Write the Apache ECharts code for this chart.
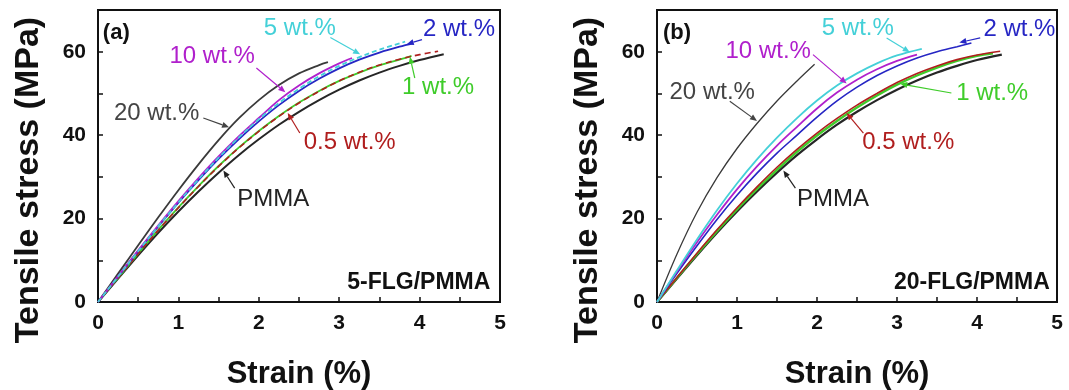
<!DOCTYPE html>
<html>
<head>
<meta charset="utf-8">
<script src="https://cdn.jsdelivr.net/npm/echarts@6/dist/echarts.min.js"></script>
<style>
  html, body { margin: 0; padding: 0; background: #fff; }
  #chart { width: 1069px; height: 390px; }
</style>
</head>
<body>
<div id="chart"></div>
<script>
// ---- tick labels ----
const strainTickLabels = [0, 1, 2, 3, 4, 5];
const stressTickLabels = [0, 20, 40, 60];

// ---- (a) 5-FLG/PMMA : [strain %, stress MPa] ----
const a_pmma = [[0,0],[0.25,5.6],[0.5,11.2],[0.75,16.6],[1,21.7],[1.25,26.5],[1.5,31.0],[1.75,35.2],[2,39.0],[2.25,42.5],[2.5,45.6],[2.75,48.4],[3,50.9],[3.25,53.1],[3.5,55.0],[3.75,56.6],[4,58.0],[4.3,59.4]];
const a_05  = [[0,0],[0.25,5.8],[0.5,11.6],[0.75,17.2],[1,22.6],[1.25,27.7],[1.5,32.5],[1.75,36.9],[2,40.9],[2.25,44.5],[2.5,47.7],[2.75,50.5],[3,53.0],[3.25,55.1],[3.5,56.8],[3.75,58.2],[4,59.3],[4.23,60.1]];
const a_1   = [[0,0],[0.25,5.8],[0.5,11.6],[0.75,17.3],[1,22.7],[1.25,27.8],[1.5,32.6],[1.75,37.0],[2,41.0],[2.25,44.6],[2.5,47.8],[2.75,50.6],[3,53.0],[3.25,55.0],[3.5,56.7],[3.75,58.1],[3.9,59.0]];
const a_2   = [[0,0],[0.25,6.1],[0.5,12.2],[0.75,18.1],[1,23.8],[1.25,29.2],[1.5,34.3],[1.75,39.0],[2,43.3],[2.25,47.2],[2.5,50.6],[2.75,53.5],[3,56.0],[3.25,58.1],[3.5,59.8],[3.75,61.2],[3.92,62.0]];
const a_5   = [[0,0],[0.25,6.1],[0.5,12.2],[0.75,18.2],[1,23.9],[1.25,29.4],[1.5,34.6],[1.75,39.4],[2,43.8],[2.25,47.7],[2.5,51.1],[2.75,54.1],[3,56.6],[3.25,58.7],[3.5,60.5],[3.82,62.4]];
const a_10  = [[0,0],[0.25,6.2],[0.5,12.4],[0.75,18.4],[1,24.2],[1.25,29.7],[1.5,34.9],[1.75,39.7],[2,44.1],[2.25,48.4],[2.5,51.9],[2.75,54.8],[3,57.2],[3.16,58.5]];
const a_20  = [[0,0],[0.25,6.8],[0.5,13.6],[0.75,20.3],[1,26.8],[1.25,33.0],[1.5,38.8],[1.75,44.0],[2,48.4],[2.25,52.0],[2.5,54.8],[2.75,56.8],[2.86,57.5]];

// ---- (b) 20-FLG/PMMA : [strain %, stress MPa] ----
const b_pmma = [[0,0],[0.25,5.6],[0.5,11.2],[0.75,16.6],[1,21.7],[1.25,26.5],[1.5,31.0],[1.75,35.2],[2,39.0],[2.25,42.5],[2.5,45.6],[2.75,48.4],[3,50.9],[3.25,53.1],[3.5,55.0],[3.75,56.6],[4,58.0],[4.31,59.3]];
const b_05  = [[0,0],[0.25,5.9],[0.5,11.7],[0.75,17.3],[1,22.6],[1.25,27.6],[1.5,32.3],[1.75,36.6],[2,40.5],[2.25,44.0],[2.5,47.2],[2.75,50.0],[3,52.6],[3.25,54.8],[3.5,56.6],[3.75,58.1],[4,59.2],[4.29,60.1]];
const b_1   = [[0,0],[0.25,5.8],[0.5,11.5],[0.75,17.0],[1,22.2],[1.25,27.1],[1.5,31.7],[1.75,36.0],[2,39.9],[2.25,43.4],[2.5,46.6],[2.75,49.5],[3,52.1],[3.25,54.3],[3.5,56.2],[3.75,57.8],[4,59.0],[4.2,59.6]];
const b_2   = [[0,0],[0.25,6.9],[0.5,13.5],[0.75,19.8],[1,25.6],[1.25,30.9],[1.5,35.7],[1.75,40.0],[2,44.3],[2.25,48.2],[2.5,51.5],[2.75,54.3],[3,56.6],[3.25,58.5],[3.5,60.0],[3.75,61.2],[3.93,62.1]];
const b_5   = [[0,0],[0.25,7.6],[0.5,15.0],[0.75,22.0],[1,28.4],[1.25,34.2],[1.5,39.4],[1.75,44.1],[2,48.3],[2.25,51.9],[2.5,54.8],[2.75,57.2],[3,59.1],[3.31,60.7]];
const b_10  = [[0,0],[0.25,7.3],[0.5,14.3],[0.75,20.9],[1,27.0],[1.25,32.5],[1.5,37.5],[1.75,42.0],[2,46.4],[2.25,50.2],[2.5,53.3],[2.75,55.8],[3,57.8],[3.25,59.3]];
const b_20  = [[0,0],[0.25,11.5],[0.5,21.5],[0.75,29.8],[1,36.8],[1.25,42.8],[1.5,48.2],[1.75,53.0],[1.97,57.0]];

const FONT = '"Liberation Sans", Arial, Helvetica, sans-serif';
const C = {
  pmma: '#262626', c20: '#3a3a3a', c10: '#b020cc', c5: '#44d0d8',
  c2: '#2626c4', c1: '#3fcc2a', c05: '#b01e1e'
};

function lineSeries(grid, data, color, width, type, z) {
  return {
    type: 'line', xAxisIndex: grid, yAxisIndex: grid, data: data,
    showSymbol: false, smooth: 0.35, z: z || 2,
    lineStyle: { color: color, width: width, type: type || 'solid' },
    emphasis: { disabled: true }, animation: false
  };
}

const grids = [
  { left: 98, top: 10, width: 402, height: 292 },
  { left: 657, top: 10, width: 400, height: 292 }
];

function xAxis(i) {
  return {
    type: 'value', gridIndex: i, min: 0, max: 5, interval: 0.5,
    name: 'Strain (%)', nameLocation: 'middle', nameGap: 57,
    nameTextStyle: { fontFamily: FONT, fontWeight: 'bold', fontSize: 31, color: '#111' },
    axisLine: { lineStyle: { color: '#111', width: 2 } },
    axisTick: { inside: true, length: 5, lineStyle: { color: '#111', width: 1.5 } },
    splitLine: { show: false },
    axisLabel: {
      margin: 11, fontFamily: FONT, fontWeight: 'bold', fontSize: 21, color: '#111',
      formatter: v => strainTickLabels.includes(v) ? String(v) : ''
    }
  };
}
function yAxis(i) {
  return {
    type: 'value', gridIndex: i, min: 0, max: 70, interval: 10,
    axisLine: { lineStyle: { color: '#111', width: 2 } },
    axisTick: { inside: true, length: 5, lineStyle: { color: '#111', width: 1.5 } },
    splitLine: { show: false },
    axisLabel: {
      margin: 12, fontFamily: FONT, fontWeight: 'bold', fontSize: 21, color: '#111',
      formatter: v => stressTickLabels.includes(v) ? String(v) : ''
    }
  };
}

const option = {
  backgroundColor: '#fff',
  animation: false,
  grid: grids.map(g => Object.assign({
    show: true, borderColor: '#111', borderWidth: 2, backgroundColor: 'transparent',
    containLabel: false, outerBoundsMode: 'none'
  }, g)),
  xAxis: [xAxis(0), xAxis(1)],
  yAxis: [yAxis(0), yAxis(1)],
  series: [
    lineSeries(0, a_pmma, C.pmma, 2),
    lineSeries(0, a_20, C.c20, 1.8),
    lineSeries(0, a_1, C.c1, 1.8),
    lineSeries(0, a_05, C.c05, 1.6, [6, 4], 3),
    lineSeries(0, a_2, C.c2, 1.8, 'solid', 3),
    lineSeries(0, a_10, C.c10, 1.8, 'solid', 3),
    lineSeries(0, a_5, C.c5, 1.8, [5, 3], 4),

    lineSeries(1, b_pmma, C.pmma, 2.2),
    lineSeries(1, b_20, C.c20, 1.3),
    lineSeries(1, b_1, C.c1, 2.4),
    lineSeries(1, b_05, C.c05, 1.6, 'solid', 3),
    lineSeries(1, b_2, C.c2, 1.6, 'solid', 3),
    lineSeries(1, b_10, C.c10, 1.8, 'solid', 3),
    lineSeries(1, b_5, C.c5, 1.8, 'solid', 4)
  ]
};

const chart = echarts.init(document.getElementById('chart'), null, { renderer: 'canvas' });
chart.setOption(option);

// ---- annotations (label, arrow from -> to), in data units ----
const notes = [
  { g: 0, text: '(a)', color: '#111', at: [0.06, 64.6], align: 'left', bold: true, size: 22 },
  { g: 0, text: '5-FLG/PMMA', color: '#111', at: [4.88, 4.6], align: 'right', bold: true, size: 23 },
  { g: 0, text: '5 wt.%', color: C.c5, at: [2.51, 65.5], from: [2.89, 63.4], to: [3.26, 59.4] },
  { g: 0, text: '2 wt.%', color: C.c2, at: [4.49, 65.3], from: [4.03, 62.9], to: [3.84, 61.8] },
  { g: 0, text: '10 wt.%', color: C.c10, at: [1.42, 58.8], from: [1.97, 56.1], to: [2.33, 50.3] },
  { g: 0, text: '1 wt.%', color: C.c1, at: [4.23, 51.4], from: [3.94, 53.7], to: [3.88, 58.8] },
  { g: 0, text: '20 wt.%', color: '#444', at: [0.73, 45.1], from: [1.31, 44.1], to: [1.63, 41.9] },
  { g: 0, text: '0.5 wt.%', color: C.c05, at: [3.13, 38.2], from: [2.51, 40.5], to: [2.36, 45.3] },
  { g: 0, text: 'PMMA', color: '#222', at: [2.18, 24.5], from: [1.70, 27.3], to: [1.56, 31.5] },

  { g: 1, text: '(b)', color: '#111', at: [0.075, 64.6], align: 'left', bold: true, size: 22 },
  { g: 1, text: '20-FLG/PMMA', color: '#111', at: [4.91, 4.6], align: 'right', bold: true, size: 23 },
  { g: 1, text: '5 wt.%', color: C.c5, at: [2.51, 65.5], from: [2.87, 63.3], to: [3.16, 59.9] },
  { g: 1, text: '2 wt.%', color: C.c2, at: [4.53, 65.3], from: [4.04, 63.3], to: [3.78, 62.2] },
  { g: 1, text: '10 wt.%', color: C.c10, at: [1.39, 60.0], from: [1.95, 59.3], to: [2.37, 52.4] },
  { g: 1, text: '20 wt.%', color: '#444', at: [0.69, 50.2], from: [0.91, 48.1], to: [1.25, 43.4] },
  { g: 1, text: '1 wt.%', color: C.c1, at: [4.19, 49.9], from: [3.68, 50.1], to: [3.04, 52.3] },
  { g: 1, text: '0.5 wt.%', color: C.c05, at: [3.14, 38.2], from: [2.58, 40.5], to: [2.37, 45.3] },
  { g: 1, text: 'PMMA', color: '#222', at: [2.2, 24.5], from: [1.73, 27.3], to: [1.58, 31.5] }
];

function px(g, p) { return chart.convertToPixel({ gridIndex: g }, p); }

const graphics = [];

// vertical axis titles, set a little below the middle of each plot
[0, 1].forEach(g => {
  const base = px(g, [0, 0]);
  graphics.push({
    type: 'text', z: 20, x: base[0] - 69, y: 180, rotation: Math.PI / 2,
    style: {
      text: 'Tensile stress (MPa)', fill: '#111',
      font: 'bold 34px ' + FONT, textAlign: 'center', textVerticalAlign: 'middle'
    }
  });
});

notes.forEach(n => {
  const p = px(n.g, n.at);
  graphics.push({
    type: 'text', z: 20, x: p[0], y: p[1],
    style: {
      text: n.text, fill: n.color,
      font: (n.bold ? 'bold ' : '') + (n.size || 24) + 'px ' + FONT,
      textAlign: n.align || 'center', textVerticalAlign: 'middle'
    }
  });
  if (n.from) {
    const a = px(n.g, n.from), b = px(n.g, n.to);
    const dx = b[0] - a[0], dy = b[1] - a[1];
    const len = Math.hypot(dx, dy), ux = dx / len, uy = dy / len;
    const hl = 7, hw = 3;
    const bx = b[0] - ux * hl, by = b[1] - uy * hl;
    graphics.push({
      type: 'line', z: 19,
      shape: { x1: a[0], y1: a[1], x2: bx, y2: by },
      style: { stroke: n.color, lineWidth: 1.2 }
    });
    graphics.push({
      type: 'polygon', z: 19,
      shape: { points: [[b[0], b[1]], [bx - uy * hw, by + ux * hw], [bx + uy * hw, by - ux * hw]] },
      style: { fill: n.color }
    });
  }
});
chart.setOption({ graphic: graphics });
</script>
</body>
</html>
